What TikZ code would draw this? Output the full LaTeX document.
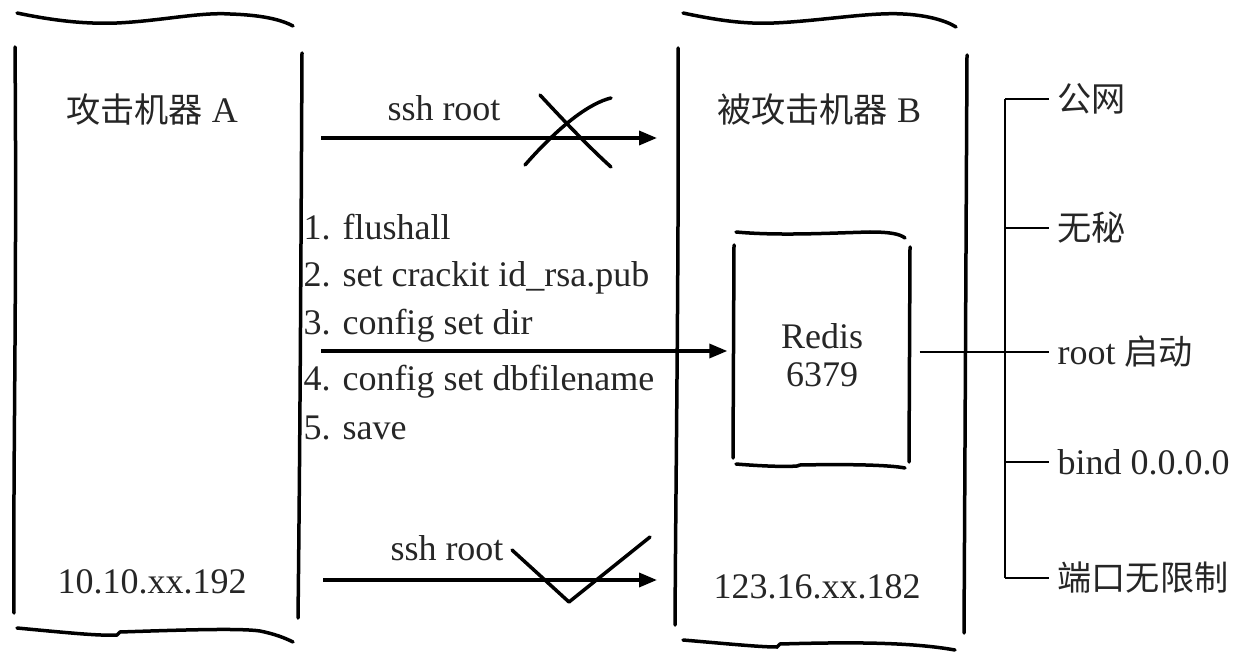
\documentclass[tikz,border=0pt]{standalone}
\usepackage{fontspec}
\setmainfont{Liberation Serif}
\newfontfamily\cjk{Noto Sans CJK SC}[Scale=0.95]
\usetikzlibrary{positioning, arrows.meta, calc}

\begin{document}
\begin{tikzpicture}[x=1pt, y=-1pt,
    every node/.style={font=\fontsize{36}{38}\selectfont, text=black!85},
    wall/.style={line width=3.5pt, line cap=round},
    flow/.style={line width=3.5pt, -{Triangle[length=18pt, width=14pt]}},
    branch/.style={line width=2pt},
    stamp/.style={line width=3.5pt, line cap=round, line join=round}]
      \useasboundingbox (0,0) rectangle (1255,652);

      % Machine A
      \draw[wall] (17,13) .. controls (60,22) and (90,24) .. (117,23) .. controls (160,21) and (200,12) .. (230,14) .. controls (260,15) and (280,19) .. (293,26);
      \draw[wall] (15,47) .. controls (17,300) and (13,450) .. (14,613);
      \draw[wall] (302,53) .. controls (301,250) and (300,450) .. (298,618);
      \draw[wall] (17,628) .. controls (70,633) and (100,636) .. (117,635) -- (120,632) .. controls (180,630) and (240,628) .. (260,631) .. controls (275,634) and (285,638) .. (293,642);
      \node (hostA) at (152,110) {{\cjk 攻击机器} A};
      \node (ipA) at (152,582) {10.10.xx.192};

      % Machine B
      \draw[wall] (683,13) .. controls (725,22) and (750,24) .. (774,23) .. controls (820,21) and (870,12) .. (903,14) .. controls (925,15) and (945,20) .. (956,27);
      \draw[wall] (678,48) .. controls (679,250) and (676,450) .. (675,625);
      \draw[wall] (967,55) .. controls (966,250) and (965,450) .. (964,633);
      \draw[wall] (683,640) .. controls (730,644) and (760,647) .. (777,647) -- (780,644) .. controls (850,642) and (910,642) .. (955,650);
      \node (hostB) at (819,110) {{\cjk 被攻击机器} B};
      \node (ipB) at (817,587) {123.16.xx.182};

      % Redis box
      \draw[wall] (736,232) .. controls (780,236) and (830,233) .. (870,232) .. controls (890,232) and (900,234) .. (905,238);
      \draw[wall] (734,245) -- (733,458);
      \draw[wall] (910,247) -- (909,462);
      \draw[wall] (736,464) .. controls (760,466) and (785,467) .. (797,466) -- (800,465) .. controls (850,464) and (890,465) .. (905,468);
      \node[minimum width=175pt, minimum height=215pt, align=center] (redis) at (822,355) {Redis\\6379};

      % Commands
      \node[anchor=west] (flush) at (300,227) {1. flushall};
      \node[anchor=west] (setkey) at (300,278) {2. set crackit id\_rsa.pub};
      \node[anchor=west] (setdir) at (300,326) {3. config set dir};
      \node[anchor=west] (setfile) at (300,382) {4. config set dbfilename};
      \node[anchor=west] (save) at (300,428) {5. save};

      % Arrows
      \coordinate (sshFromTop) at (321,138);
      \coordinate (sshToTop) at (657,138);
      \coordinate (cmdFrom) at (321,351);
      \coordinate (sshFromBottom) at (323,580);
      \coordinate (sshToBottom) at (657,580);
      \draw[flow] (sshFromTop) -- (sshToTop);
      \node (sshTop) at (444,108) {ssh root};
      \draw[flow, shorten >=7pt] (cmdFrom) -- (cmdFrom -| redis.west);
      \draw[flow] (sshFromBottom) -- (sshToBottom);
      \node (sshBottom) at (447,548) {ssh root};

      % Cross and tick
      \draw[stamp] (540,95) .. controls (565,122) and (590,148) .. (611,167);
      \draw[stamp] (525,165) .. controls (560,125) and (590,103) .. (611,98);
      \draw[stamp] (512,550) -- (569,602) -- (650,537);

      % Settings
      \node[anchor=west] (pubnet) at (1054,99) {\cjk 公网};
      \node[anchor=west] (nopass) at (1054,228) {\cjk 无秘};
      \node[anchor=west] (rootrun) at (1054,352) {root {\cjk 启动}};
      \node[anchor=west] (bindall) at (1054,462) {bind 0.0.0.0};
      \node[anchor=west] (portopen) at (1054,578) {\cjk 端口无限制};

      \coordinate (spine) at (1005,0);
      \coordinate (redisOut) at ([xshift=10pt]redis.east);
      \draw[branch] (spine |- pubnet.west) -- (spine |- portopen.west);
      \draw[branch, shorten >=5pt] (spine |- pubnet.west) -- (pubnet.west);
      \draw[branch, shorten >=5pt] (spine |- nopass.west) -- (nopass.west);
      \draw[branch, shorten >=5pt] (redisOut |- rootrun.west) -- (rootrun.west);
      \draw[branch, shorten >=5pt] (spine |- bindall.west) -- (bindall.west);
      \draw[branch, shorten >=5pt] (spine |- portopen.west) -- (portopen.west);
    \end{tikzpicture}
\end{document}
